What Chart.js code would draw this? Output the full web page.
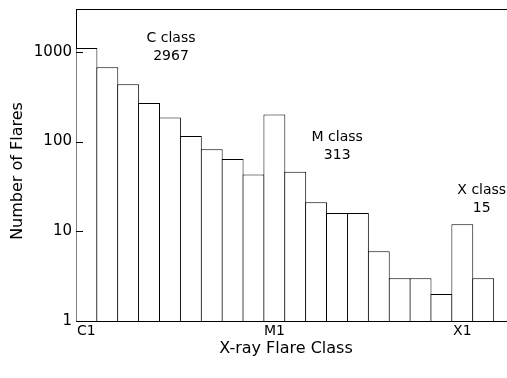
<!DOCTYPE html>
<html>
<head>
<meta charset="utf-8">
<title>X-ray Flare Class distribution</title>
<script src="https://cdn.jsdelivr.net/npm/chart.js@4/dist/chart.umd.min.js"></script>
<style>
  html, body { margin: 0; padding: 0; background: #fff; }
  canvas { display: block; }
</style>
</head>
<body>
<canvas id="flares" width="507" height="378"></canvas>
<script>
// GOES class bins, one bar per sub-class
const flareClasses = ['C1','C2','C3','C4','C5','C6','C7','C8','C9',
                      'M1','M2','M3','M4','M5','M6','M7','M8','M9',
                      'X1','X2'];
// number of flares counted in each bin
const flareCounts = [1100, 675, 435, 268, 185, 115, 82, 64, 43,
                     200, 46, 21, 16, 16, 6, 3, 3, 2,
                     12, 3];
const yTickValues = [1, 10, 100, 1000];
const xTickLabels = ['C1', 'M1', 'X1'];
const classLetters = ['C', 'M', 'X'];

const FONT = 'DejaVu Sans';
Chart.defaults.font.family = FONT;
Chart.defaults.color = '#000';

// per-class totals, summed from the bins
const classTotals = classLetters.map(letter =>
  flareCounts.reduce((sum, c, i) => sum + (flareClasses[i][0] === letter ? c : 0), 0));

// label anchors in axis units: [x bin position, y count]
const noteAnchors = { C: [4.55, 1400], M: [12.51, 110], X: [19.43, 28.5] };

const points = flareCounts.map((c, i) => ({ x: i + 0.5, y: c }));
const xTickPositions = xTickLabels.map(l => flareClasses.indexOf(l) + 0.5);

const framePlugin = {
  id: 'frameAndNotes',
  afterDatasetsDraw(chart) {
    const { ctx, chartArea: a, scales: { x, y } } = chart;
    ctx.save();
    ctx.strokeStyle = '#000';
    ctx.lineWidth = 1;
    // top edge of the plot frame
    ctx.beginPath();
    ctx.moveTo(a.left, Math.round(a.top) + 0.5);
    ctx.lineTo(a.right, Math.round(a.top) + 0.5);
    ctx.stroke();
    // inward major tick marks on the count axis
    y.ticks.forEach(t => {
      const py = Math.round(y.getPixelForValue(t.value)) + 0.5;
      ctx.beginPath();
      ctx.moveTo(a.left, py);
      ctx.lineTo(a.left + 7, py);
      ctx.stroke();
    });
    // class totals
    ctx.fillStyle = '#000';
    ctx.textAlign = 'center';
    ctx.textBaseline = 'middle';
    ctx.font = '14px "' + FONT + '"';
    classLetters.forEach((letter, k) => {
      const [ax, ay] = noteAnchors[letter];
      const px = x.getPixelForValue(ax);
      const py = y.getPixelForValue(ay);
      ctx.fillText(letter + ' class', px, py);
      ctx.fillText(String(classTotals[k]), px, py + 18);
    });
    // axis titles
    ctx.font = '16px "' + FONT + '"';
    ctx.fillText('X-ray Flare Class', a.left + 210, a.bottom + 28);
    ctx.save();
    ctx.translate(18, (a.top + a.bottom) / 2 + 6);
    ctx.rotate(-Math.PI / 2);
    ctx.fillText('Number of Flares', 0, 0);
    ctx.restore();
    ctx.restore();
  }
};

new Chart(document.getElementById('flares'), {
  type: 'bar',
  data: {
    datasets: [{
      data: points,
      backgroundColor: '#fff',
      borderColor: '#000',
      borderWidth: 1,
      borderSkipped: 'start',
      barPercentage: 1.048,
      categoryPercentage: 1
    }]
  },
  options: {
    responsive: false,
    animation: false,
    devicePixelRatio: 1,
    layout: { padding: { top: 9, left: 0, right: 0, bottom: 0 } },
    plugins: { legend: { display: false }, tooltip: { enabled: false } },
    scales: {
      x: {
        type: 'linear',
        min: 0,
        max: 20.64,
        offset: false,
        afterBuildTicks: s => { s.ticks = xTickPositions.map(v => ({ value: v })); },
        afterFit: s => { s.height = 57; s.paddingLeft = 0; s.paddingRight = 0; },
        ticks: {
          autoSkip: false,
          maxRotation: 0,
          padding: 2,
          font: { size: 14 },
          color: '#000',
          callback: (v, i) => xTickLabels[i]
        },
        grid: { display: true, drawOnChartArea: false, drawTicks: false, offset: false },
        border: { display: true, color: '#000', width: 1 }
      },
      y: {
        type: 'logarithmic',
        min: 1,
        max: 3000,
        afterBuildTicks: s => { s.ticks = yTickValues.map(v => ({ value: v })); },
        afterFit: s => { s.width = 76; s.paddingTop = 0; s.paddingBottom = 0; },
        ticks: {
          padding: 4,
          font: { size: 15 },
          color: '#000',
          callback: v => String(v)
        },
        grid: { display: true, drawOnChartArea: false, drawTicks: false },
        border: { display: true, color: '#000', width: 1 }
      }
    }
  },
  plugins: [framePlugin]
});
</script>
</body>
</html>
